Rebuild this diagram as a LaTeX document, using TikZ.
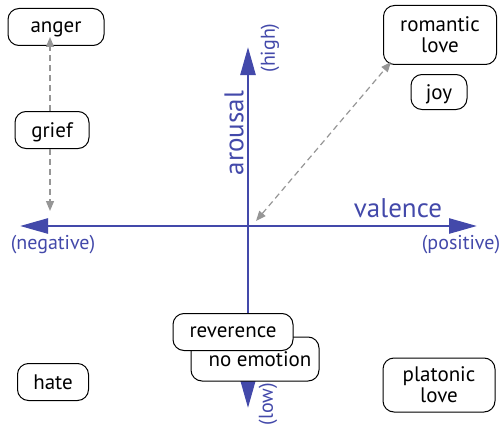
\documentclass[tikz,border=0pt]{standalone}
\usepackage{fontspec}
\setmainfont{PT Sans}
\usetikzlibrary{arrows.meta}
\definecolor{axisblue}{RGB}{67,73,170}
\definecolor{dashgray}{RGB}{150,150,150}
\tikzset{
  emotion/.style={draw,line width=1pt,rounded corners=11pt,fill=white,
    align=center,font=\fontsize{21}{21}\selectfont,minimum height=37pt,
    inner sep=2pt,text depth=0pt},
  axis/.style={draw=axisblue,line width=2.6pt,
    -{Triangle[length=28pt,width=15pt]}},
  axislabel/.style={text=axisblue,font=\fontsize{27}{30}\selectfont},
  endlabel/.style={text=axisblue,font=\fontsize{20}{22}\selectfont},
  dasharrow/.style={draw=dashgray,line width=1.2pt,dash pattern=on 6pt off 4pt,
    -{Triangle[length=10pt,width=8pt]}},
}
\begin{document}
\begin{tikzpicture}[x=1pt,y=-1pt]
\useasboundingbox (0,0) rectangle (503,428);
% axes
\coordinate (O) at (248,226);
\coordinate (left) at (20,226);
\coordinate (right) at (477,226);
\coordinate (top) at (248,47);
\coordinate (bottom) at (248,408);
\draw[axis] (O)--(right);
\draw[axis] (O)--(left);
\draw[axis] (O)--(top);
\draw[axis] (O)--(bottom);
\node[axislabel] (valence) at (398,208) {valence};
\node[axislabel,rotate=90] (arousal) at (234,133) {arousal};
\node[endlabel] (negative) at (53,245) {(negative)};
\node[endlabel] (positive) at (461,245) {(positive)};
\node[endlabel,rotate=90] (high) at (270,48) {(high)};
\node[endlabel,rotate=90] (low) at (268,404) {(low)};
% emotions
\node[emotion,minimum width=96pt] (anger) at (56,27) {anger};
\node[emotion,minimum width=74pt] (grief) at (52,130) {grief};
\node[emotion,minimum width=113pt,minimum height=59pt] (romantic) at (440,35) {romantic\\love};
\node[emotion,minimum width=56pt,minimum height=35pt] (joy) at (439,92) {joy};
\node[emotion,minimum width=128pt,minimum height=44pt] (noemotion) at (255,359) {\hspace*{10pt}no emotion};
\node[emotion,minimum width=120pt] (reverence) at (233,332) {reverence};
\node[emotion,minimum width=71pt] (hate) at (53,382) {hate};
\node[emotion,minimum width=112pt,minimum height=54pt] (platonic) at (439,385) {platonic\\love};
% shifts
\coordinate (griefdown) at (50,211);
\coordinate (origin) at (256,221);
\draw[dasharrow] (grief.north -| 50,0) -- ([yshift=9pt]anger.south -| 50,0);
\draw[dasharrow] (grief.south -| 50,0) -- (griefdown);
\draw[dasharrow,{Triangle[length=10pt,width=8pt]}-{Triangle[length=10pt,width=8pt]}] (origin) -- (391,62);
\end{tikzpicture}
\end{document}
